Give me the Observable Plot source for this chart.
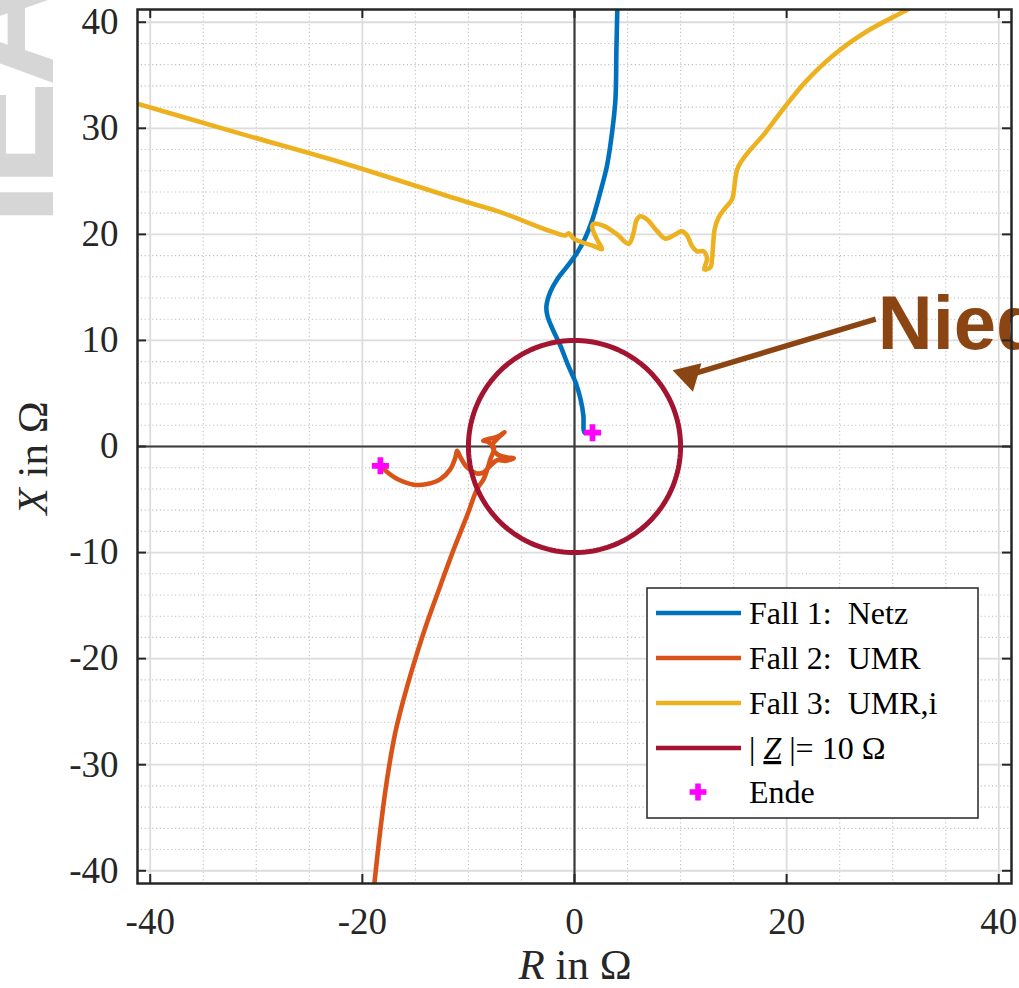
<!DOCTYPE html>
<html>
<head>
<meta charset="utf-8">
<script src="https://cdn.jsdelivr.net/npm/d3@7"></script>
<script src="https://cdn.jsdelivr.net/npm/@observablehq/plot@0.6"></script>
<style>
  html, body { margin: 0; padding: 0; background: #fff; overflow: hidden; }
  #wrap { position: relative; width: 1019px; height: 988px; overflow: hidden; }
  #overlay { position: absolute; left: 0; top: 0; pointer-events: none; }
</style>
</head>
<body>
<div id="wrap"></div>
<script>
// ---------- data ----------
const seriesNames = ["Fall 1:\u2002Netz", "Fall 2:\u2002UMR", "Fall 3:\u2002UMR,i"];

// Fall 1: Netz  (R, X in Ohm)
const netzR = [4.05, 3.95, 3.86, 3.54, 3.07, 2.44, 1.69, 1.03, 0.27, -0.67, -1.61, -2.27, -2.65, -2.55, -2.08, -1.33, -0.58, 0.08, 0.56, 0.84, 0.86, 0.95];
const netzX = [41.8, 37.4, 32.7, 29.6, 26.5, 24.0, 21.4, 19.7, 18.3, 17.0, 15.8, 14.6, 13.2, 12.3, 11.1, 9.5, 7.6, 6.1, 4.5, 2.9, 1.6, 1.3];

// Fall 2: UMR
const umrR = [-18.95, -18.3, -17.66, -16.88, -15.94, -15.0, -13.9, -12.64, -11.39, -10.12, -9.18, -8.56, -7.93, -7.6, -8.2, -8.6, -7.9, -7.2, -6.6, -7.3, -7.75, -7.3, -6.35, -5.73, -6.5, -7.3, -8.09, -8.56, -9.18, -10.12, -10.75, -11.07, -11.23, -11.7, -12.64, -13.9, -15.15, -16.7, -17.8, -18.3];
const umrX = [-42.0, -36.1, -31.3, -26.9, -23.2, -20.0, -16.6, -13.1, -9.7, -6.5, -4.0, -3.07, -1.19, -0.08, 0.45, 0.55, 0.75, 0.95, 1.35, 0.7, 0.1, -0.72, -1.03, -1.1, -1.35, -1.3, -1.97, -2.44, -2.54, -1.97, -1.03, -0.4, -1.03, -2.13, -3.07, -3.54, -3.6, -3.07, -2.29, -1.82];

// Fall 3: UMR,i
const umriR = [-42.5, -31.5, -22.06, -10.0, -7.0, -2.27, -0.86, -0.55, -0.07, 0.87, 1.81, 2.6, 2.13, 1.66, 1.81, 2.75, 4.01, 5.11, 5.58, 5.83, 6.21, 6.84, 7.79, 8.57, 9.51, 10.14, 10.61, 11.08, 11.56, 12.18, 12.5, 12.24, 12.81, 12.97, 13.06, 13.22, 13.59, 14.22, 14.85, 15.45, 18.0, 19.9, 21.8, 24.3, 27.5, 31.4, 32.6];
const umriX = [32.7, 29.5, 26.8, 23.0, 22.1, 20.3, 19.9, 20.1, 19.6, 19.2, 18.9, 18.6, 19.5, 20.7, 21.0, 20.8, 20.0, 19.1, 20.2, 21.3, 21.7, 21.4, 20.3, 19.6, 20.0, 20.3, 19.9, 18.9, 18.4, 18.4, 17.7, 16.7, 16.9, 17.7, 18.9, 20.5, 21.6, 22.5, 23.3, 26.4, 29.6, 32.1, 34.4, 36.8, 39.1, 41.2, 41.9];

// |Z| = 10 Ohm
const circleRadius = 10;

// Ende markers
const endeR = [1.7, -18.3];
const endeX = [1.3, -1.82];

// ticks
const xTicks = [-40, -20, 0, 20, 40];
const yTicks = [-40, -30, -20, -10, 0, 10, 20, 30, 40];
const xMinor = [-35, -30, -25, -15, -10, -5, 5, 10, 15, 25, 30, 35];
const yMinor = [-38, -36, -34, -32, -28, -26, -24, -22, -18, -16, -14, -12, -8, -6, -4, -2, 2, 4, 6, 8, 12, 14, 16, 18, 22, 24, 26, 28, 32, 34, 36, 38];

// annotation
const annoText = ["Niederohmig"];
const annoTextR = [28.6];
const annoTextX = [9.2];
const arrowFrom = [28.4, 12.0];
const arrowTip = [9.5, 6.35];

// ---------- build ----------
const colors = ["#0072BD", "#D95319", "#EDB120", "#A2142F"];
const magenta = "#FF00FF";
const brown = "#8B4513";

const toRows = (R, X) => R.map((r, i) => ({r, x: X[i]}));
const netz = toRows(netzR, netzX);
const umr = toRows(umrR, umrX);
const umri = toRows(umriR, umriX);
const circle = d3.range(0, 361, 2).map(a => ({r: circleRadius * Math.cos(a * Math.PI / 180), x: circleRadius * Math.sin(a * Math.PI / 180)}));
const ende = toRows(endeR, endeX);

// arrow head: centre of triangle set back from the tip along the arrow
const dR = arrowFrom[0] - arrowTip[0], dX = arrowFrom[1] - arrowTip[1];
const len = Math.hypot(dR, dX);
const headBack = 1.35;
const headCentre = {r: arrowTip[0] + dR / len * headBack, x: arrowTip[1] + dX / len * headBack};
const headAngle = Math.atan2(-dR, dX) * 180 / Math.PI; // clockwise from up (screen)

const lo = -41.2, hi = 41.2, tk = 0.85;
const fmt = d => String(d);
const lw = 4.6;

const chart = Plot.plot({
  width: 1019,
  height: 988,
  marginLeft: 137,
  marginRight: 8,
  marginTop: 9,
  marginBottom: 105,
  x: {domain: [lo, hi], label: null},
  y: {domain: [lo, hi], label: null},
  style: {fontFamily: "'Liberation Serif', 'DejaVu Serif', serif", fontSize: "36px", color: "#262626", background: "white", overflow: "visible"},
  marks: [
    Plot.ruleX(xMinor, {stroke: "#c0c0c0", strokeWidth: 1.1, strokeDasharray: "1.2,2.6"}),
    Plot.ruleY(yMinor, {stroke: "#c0c0c0", strokeWidth: 1.1, strokeDasharray: "1.2,2.6"}),
    Plot.ruleX(xTicks, {stroke: "#dcdcdc", strokeWidth: 1.8}),
    Plot.ruleY(yTicks, {stroke: "#dcdcdc", strokeWidth: 1.8}),
    Plot.ruleX([0], {stroke: "#3c3c3c", strokeWidth: 2.2}),
    Plot.ruleY([0], {stroke: "#3c3c3c", strokeWidth: 2.2}),
    Plot.line(netz, {x: "r", y: "x", stroke: colors[0], strokeWidth: lw, curve: "catmull-rom", clip: true}),
    Plot.line(umr, {x: "r", y: "x", stroke: colors[1], strokeWidth: lw, curve: "catmull-rom", clip: true}),
    Plot.line(umri, {x: "r", y: "x", stroke: colors[2], strokeWidth: lw, curve: "catmull-rom", clip: true}),
    Plot.line(circle, {x: "r", y: "x", stroke: colors[3], strokeWidth: 5}),
    Plot.dot(ende, {x: "r", y: "x", symbol: "cross", r: 7.2, fill: magenta, stroke: "none"}),
    Plot.link([{}], {x1: () => arrowFrom[0], y1: () => arrowFrom[1], x2: () => headCentre.r, y2: () => headCentre.x, stroke: brown, strokeWidth: 5.5}),
    Plot.dot([headCentre], {x: "r", y: "x", symbol: "triangle", r: 11, fill: brown, stroke: "none", rotate: headAngle}),
    Plot.text(annoText, {x: () => annoTextR[0], y: () => annoTextX[0], text: d => d, textAnchor: "start", lineAnchor: "bottom", fontFamily: "'Liberation Sans', Arial, sans-serif", fontWeight: "bold", fontSize: 76, fill: brown}),
    Plot.ruleX(xTicks, {y1: lo, y2: lo + tk, stroke: "#262626", strokeWidth: 2}),
    Plot.ruleX(xTicks, {y1: hi - tk, y2: hi, stroke: "#262626", strokeWidth: 2}),
    Plot.ruleY(yTicks, {x1: lo, x2: lo + tk, stroke: "#262626", strokeWidth: 2}),
    Plot.ruleY(yTicks, {x1: hi - tk, x2: hi, stroke: "#262626", strokeWidth: 2}),
    Plot.frame({stroke: "#262626", strokeWidth: 2.5}),
    Plot.axisX(xTicks, {tickSize: 0, tickPadding: 24, tickFormat: fmt, fontSize: 37, label: null}),
    Plot.axisY(yTicks, {tickSize: 0, tickPadding: 19, tickFormat: fmt, fontSize: 37, label: null})
  ]
});

const wrap = document.getElementById("wrap");
wrap.appendChild(chart);

// ---------- overlay: watermark, axis labels, legend ----------
const NS = "http://www.w3.org/2000/svg";
const ov = document.createElementNS(NS, "svg");
ov.setAttribute("id", "overlay");
ov.setAttribute("width", 1019);
ov.setAttribute("height", 988);
const serif = "'Liberation Serif', 'DejaVu Serif', serif";

function el(tag, attrs, parent) {
  const e = document.createElementNS(NS, tag);
  for (const k in attrs) e.setAttribute(k, attrs[k]);
  (parent || ov).appendChild(e);
  return e;
}
function tspan(parent, text, attrs) {
  const t = el("tspan", attrs || {}, parent);
  t.textContent = text;
  return t;
}

// watermark
const wm = el("text", {transform: "translate(53,226) rotate(-90)", "font-family": "'Liberation Sans', Arial, sans-serif", "font-weight": "bold", "font-size": 160, fill: "#d6d6d6", "letter-spacing": "-6"});
wm.textContent = "IEA";

// x label
const xl = el("text", {x: 575, y: 979, "text-anchor": "middle", "font-family": serif, "font-size": 43, fill: "#262626"});
tspan(xl, "R", {"font-style": "italic"});
tspan(xl, " in \u03A9");

// y label
const yl = el("text", {transform: "translate(47,458) rotate(-90)", "text-anchor": "middle", "font-family": serif, "font-size": 43, fill: "#262626"});
tspan(yl, "X", {"font-style": "italic"});
tspan(yl, " in \u03A9");

// legend
const lg = {x: 647, y: 588, w: 331, h: 230};
el("rect", {x: lg.x, y: lg.y, width: lg.w, height: lg.h, fill: "white", stroke: "#262626", "stroke-width": 1.5});
const rowY = [613, 658, 703, 748, 792];
const legendFont = 32;
for (let i = 0; i < 4; i++) {
  el("line", {x1: 656, x2: 741, y1: rowY[i], y2: rowY[i], stroke: colors[i], "stroke-width": 4.5});
}
for (let i = 0; i < 3; i++) {
  const t = el("text", {x: 749, y: rowY[i] + 11, "font-family": serif, "font-size": legendFont, fill: "#000"});
  t.textContent = seriesNames[i];
}
const zt = el("text", {x: 749, y: rowY[3] + 11, "font-family": serif, "font-size": legendFont, fill: "#000"});
tspan(zt, "| ");
tspan(zt, "Z", {"font-style": "italic", "text-decoration": "underline"});
tspan(zt, " |= " + circleRadius + " \u03A9");
// Ende marker in legend
const cross = d3.symbol(d3.symbolCross, 5 * 5.6 * 5.6)();
el("path", {d: cross, transform: `translate(698,${rowY[4]})`, fill: magenta});
const et = el("text", {x: 749, y: rowY[4] + 11, "font-family": serif, "font-size": legendFont, fill: "#000"});
et.textContent = "Ende";

wrap.appendChild(ov);
</script>
</body>
</html>
